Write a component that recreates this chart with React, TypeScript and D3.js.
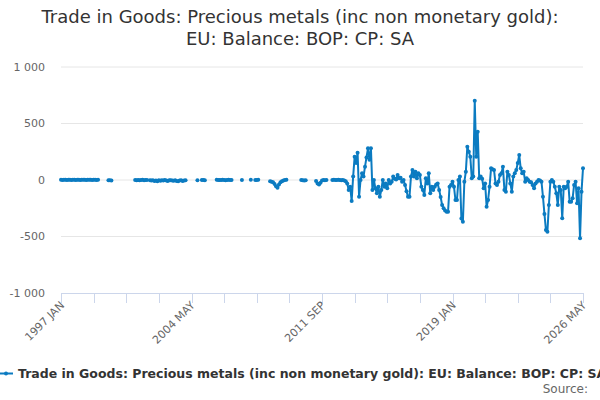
import * as d3 from "d3";
import { useRef, useEffect } from "react";

// monthly values, 1997 JAN .. 2026 MAY, null = no data
const values: (number | null)[] = [
  // 1997
  2, 1, 3, 2, 1, 2, 3, 1, 2, 2, 1, 3,
  // 1998
  2, 1, 2, 3, 2, 1, 2, 2, 3, 1, 2, 2,
  // 1999
  1, 2, null, null, null, null, null, null, -3, -2, -4, null,
  // 2000
  null, null, null, null, null, null, null, null, null, null, null, null,
  // 2001
  null, null, 1, -2, 0, -3, -1, 2, -2, 0, -1, null,
  // 2002
  -2, -4, -3, -8, -5, -10, -3, -6, -2, -4, -1, -5,
  // 2003
  -8, -3, -2, -4, -6, -3, -9, -12, -5, -3, -8, -4,
  // 2004
  -2, null, null, null, null, null, null, null, -2, null, null, -1,
  // 2005
  0, -2, null, null, null, null, null, null, null, 2, 0, -1,
  // 2006
  1, 3, 0, -2, 1, 2, 0, 1, null, null, null, null,
  // 2007
  null, null, 1, null, null, null, null, null, 2, null, null, 1,
  // 2008
  0, 2, null, null, null, null, null, null, null, -10, -15, -20,
  // 2009
  -35, -55, -68, -40, -20, -10, -5, 0, 2, null, null, null,
  // 2010
  null, null, null, null, null, null, 0, -3, -5, -2, null, null,
  // 2011
  null, null, null, null, -8, -30, -40, -25, -5, 0, -2, 0,
  // 2012
  null, null, null, 0, 2, -1, 0, 3, 0, -2, 0, -5,
  // 2013
  -10, -30, -88, -60, -186, 30, 206, 150, 242, -148, 0, 60,
  // 2014
  30, 118, 200, 280, 180, 280, -88, 0, -74, -118, -60, -148,
  // 2015
  -88, 0, -60, -30, -74, 0, -30, -15, 30, 10, 5, 44,
  // 2016
  15, 20, -15, 0, -44, -100, -148, -148, 30, 88, 30, 74,
  // 2017
  15, 60, 44, -59, -88, -133, 15, -30, 59, -118, -59, -89,
  // 2018
  -59, -40, -30, -89, -150, -221, -251, -270, -280, -280, -59, -44,
  // 2019
  -15, -60, -177, -177, 0, 30, -340, -369, -15, 74, 295, 250,
  // 2020
  206, 15, 30, 702, 206, 428, 15, 30, 10, -74, -30, -236,
  // 2021
  -177, -59, 103, 95, 89, -30, -44, -15, 44, 59, 118, -88,
  // 2022
  -103, 74, 44, -30, -103, 30, 60, 88, 150, 221, 103, 59,
  // 2023
  74, -15, 15, 0, -15, -20, -44, -74, -30, -15, 0, -5,
  // 2024
  -15, -148, -300, -442, -457, -221, -15, 0, -15, -59, -118, -221,
  // 2025
  -59, -88, -339, -59, -74, -59, -15, -192, -192, -162, -44, -15,
  // 2026
  -206, -74, -516, -103, 103,
];

const monthNames = ["JAN", "FEB", "MAR", "APR", "MAY", "JUN", "JUL", "AUG", "SEP", "OCT", "NOV", "DEC"];
const startYear = 1997;
const yTicks = [-1000, -500, 0, 500, 1000];
const labelEvery = 88; // months between x labels
const tickEvery = 22;  // months between x ticks

const titleLines = [
  "Trade in Goods: Precious metals (inc non monetary gold):",
  "EU: Balance: BOP: CP: SA",
];
const seriesName = "Trade in Goods: Precious metals (inc non monetary gold): EU: Balance: BOP: CP: SA";

const width = 600;
const height = 400;
const color = "#0b7bc1";

export default function App() {
  const svgRef = useRef<SVGSVGElement | null>(null);

  useEffect(() => {
    if (!svgRef.current) return;
    const svg = d3.select(svgRef.current);
    svg.selectAll("*").remove();

    const font = "'DejaVu Sans', Verdana, sans-serif";
    const plot = { left: 61, right: 583, top: 67, bottom: 293 };

    const x = d3.scaleLinear().domain([0, values.length - 1]).range([plot.left, plot.right]);
    const y = d3.scaleLinear().domain([-1000, 1000]).range([plot.bottom, plot.top]);

    // Titel
    svg.append("g")
      .selectAll("text")
      .data(titleLines)
      .join("text")
      .attr("x", width / 2)
      .attr("y", (_, i) => 23 + i * 22)
      .attr("text-anchor", "middle")
      .attr("fill", "#333333")
      .style("font", `18px ${font}`)
      .text(d => d);

    // grid + y labels
    const gy = svg.append("g");
    gy.selectAll("line")
      .data(yTicks.filter(t => t !== -1000))
      .join("line")
      .attr("x1", plot.left)
      .attr("x2", plot.right)
      .attr("y1", d => y(d))
      .attr("y2", d => y(d))
      .attr("stroke", "#e6e6e6");
    const fmt = (v: number) => d3.format(",")(v).replace(/,/g, " ").replace("−", "-");
    gy.selectAll("text")
      .data(yTicks)
      .join("text")
      .attr("x", 45)
      .attr("y", d => y(d))
      .attr("dy", "0.35em")
      .attr("text-anchor", "end")
      .attr("fill", "#666666")
      .style("font", `11px ${font}`)
      .text(d => fmt(d));

    // x axis
    const gx = svg.append("g");
    gx.append("line")
      .attr("x1", plot.left)
      .attr("x2", plot.right)
      .attr("y1", plot.bottom + 0.5)
      .attr("y2", plot.bottom + 0.5)
      .attr("stroke", "#ccd6eb");
    const tickIdx = d3.range(0, values.length, tickEvery);
    gx.selectAll("line.tick")
      .data(tickIdx)
      .join("line")
      .attr("class", "tick")
      .attr("x1", d => Math.round(x(d)) + 0.5)
      .attr("x2", d => Math.round(x(d)) + 0.5)
      .attr("y1", plot.bottom)
      .attr("y2", plot.bottom + 10)
      .attr("stroke", "#ccd6eb");
    const labelIdx = d3.range(0, values.length, labelEvery);
    gx.selectAll("text")
      .data(labelIdx)
      .join("text")
      .attr("transform", d => `translate(${x(d) + 4},${plot.bottom + 13}) rotate(-45)`)
      .attr("text-anchor", "end")
      .attr("fill", "#666666")
      .style("font", `11px ${font}`)
      .text(d => `${startYear + Math.floor(d / 12)} ${monthNames[d % 12]}`);

    // series
    const line = d3.line<number | null>()
      .defined(d => d !== null)
      .x((_, i) => x(i))
      .y(d => y(d as number));

    svg.append("path")
      .datum(values)
      .attr("fill", "none")
      .attr("stroke", color)
      .attr("stroke-width", 2)
      .attr("stroke-linejoin", "round")
      .attr("d", line);

    const pts = values.map((v, i) => ({ v, i })).filter(p => p.v !== null);
    svg.append("g")
      .selectAll("circle")
      .data(pts)
      .join("circle")
      .attr("cx", d => x(d.i))
      .attr("cy", d => y(d.v as number))
      .attr("r", 2)
      .attr("fill", color);

    // Legende (runs past the right edge, like the original)
    const lg = svg.append("g");
    lg.append("line")
      .attr("x1", 0)
      .attr("x2", 13)
      .attr("y1", 373.5)
      .attr("y2", 373.5)
      .attr("stroke", color)
      .attr("stroke-width", 2);
    lg.append("circle")
      .attr("cx", 6)
      .attr("cy", 373.5)
      .attr("r", 2)
      .attr("fill", color);
    lg.append("text")
      .attr("x", 18)
      .attr("y", 378)
      .attr("fill", "#333333")
      .style("font", `bold 12.5px ${font}`)
      .text(seriesName);

    svg.append("text")
      .attr("x", 588)
      .attr("y", 393)
      .attr("text-anchor", "end")
      .attr("fill", "#666666")
      .style("font", `12px ${font}`)
      .text("Source:");
  }, []);

  return (
    <svg
      ref={svgRef}
      width={width}
      height={height}
      style={{ position: "absolute", left: 0, top: 0, background: "#ffffff" }}
    ></svg>
  );
}
